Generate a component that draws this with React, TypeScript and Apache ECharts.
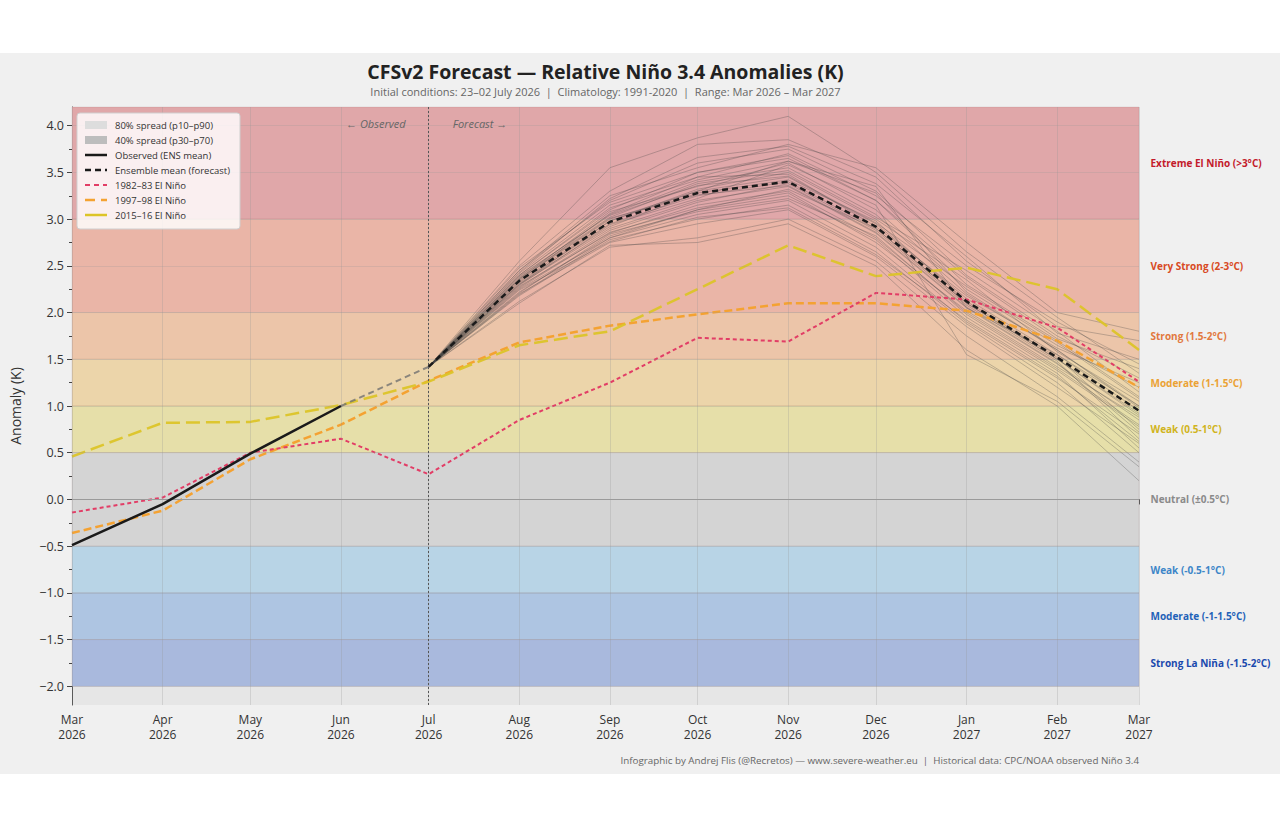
import React, { useEffect, useRef } from "react";
import * as echarts from "echarts";

// ---------- data ----------
const monthKeys = [
  "2026-03", "2026-04", "2026-05", "2026-06", "2026-07", "2026-08", "2026-09",
  "2026-10", "2026-11", "2026-12", "2027-01", "2027-02", "2027-03",
];
const MONTH_NAMES = ["Jan", "Feb", "Mar", "Apr", "May", "Jun", "Jul", "Aug", "Sep", "Oct", "Nov", "Dec"];

const yTickValues = [-2.0, -1.5, -1.0, -0.5, 0.0, 0.5, 1.0, 1.5, 2.0, 2.5, 3.0, 3.5, 4.0];
const yMinorTicks = [-1.75, -1.25, -0.75, -0.25, 0.25, 0.75, 1.25, 1.75, 2.25, 2.75, 3.25, 3.75];
const Y_MIN = -2.2;
const Y_MAX = 4.2;

// Observed (Mar–Jun 2026)
const observed = [-0.49, -0.05, 0.49, 1.0];
// Link Jun -> Jul
const bridge = [1.0, 1.42];
// Ensemble mean forecast (Jul 2026 – Mar 2027)
const ensembleMean = [1.42, 2.34, 2.97, 3.28, 3.40, 2.92, 2.12, 1.52, 0.95];
// spread percentiles (Jul – Mar)
const p10 = [1.42, 2.15, 2.74, 2.97, 3.08, 2.62, 1.82, 1.22, 0.50];
const p30 = [1.42, 2.27, 2.89, 3.16, 3.30, 2.80, 2.01, 1.42, 0.80];
const p70 = [1.42, 2.41, 3.07, 3.40, 3.53, 3.05, 2.24, 1.64, 1.10];
const p90 = [1.42, 2.53, 3.24, 3.60, 3.72, 3.26, 2.45, 1.85, 1.40];

// Historical analogues (Mar – Mar)
const nino8283 = [-0.14, 0.02, 0.50, 0.65, 0.27, 0.85, 1.25, 1.73, 1.69, 2.21, 2.14, 1.84, 1.26];
const nino9798 = [-0.36, -0.12, 0.43, 0.80, 1.27, 1.68, 1.86, 1.98, 2.10, 2.10, 2.02, 1.70, 1.20];
const nino1516 = [0.46, 0.82, 0.83, 1.01, 1.26, 1.65, 1.80, 2.25, 2.72, 2.39, 2.48, 2.25, 1.60];

// Ensemble members (Jul – Mar)
const members = [
  [1.42, 2.55, 3.55, 3.87, 4.10, 3.50, 2.65, 1.95, 1.35],
  [1.42, 2.50, 3.30, 3.80, 3.85, 3.45, 2.55, 1.85, 1.70],
  [1.42, 2.45, 3.20, 3.60, 3.75, 3.30, 2.40, 1.75, 1.30],
  [1.42, 2.40, 3.10, 3.50, 3.65, 3.20, 2.30, 1.70, 1.10],
  [1.42, 2.38, 3.05, 3.40, 3.55, 3.05, 2.20, 1.60, 1.00],
  [1.42, 2.35, 3.00, 3.30, 3.45, 2.95, 2.15, 1.55, 0.95],
  [1.42, 2.32, 2.95, 3.25, 3.40, 2.90, 2.10, 1.50, 0.90],
  [1.42, 2.30, 2.90, 3.20, 3.35, 2.85, 2.05, 1.45, 0.85],
  [1.42, 2.28, 2.85, 3.15, 3.30, 2.80, 2.00, 1.40, 0.80],
  [1.42, 2.25, 2.80, 3.05, 3.20, 2.70, 1.90, 1.30, 0.70],
  [1.42, 2.20, 2.75, 2.95, 3.10, 2.60, 1.85, 1.20, 0.60],
  [1.42, 2.12, 2.70, 2.80, 3.00, 2.55, 1.75, 1.10, 0.40],
  [1.42, 2.10, 2.72, 2.75, 2.95, 2.50, 1.60, 1.00, 0.20],
  [1.42, 2.45, 3.25, 3.55, 3.80, 3.55, 2.75, 2.00, 1.80],
  [1.42, 2.42, 3.15, 3.45, 3.70, 3.25, 2.50, 1.90, 1.45],
  [1.42, 2.36, 3.08, 3.35, 3.60, 3.10, 2.25, 1.65, 1.20],
  [1.42, 2.33, 2.98, 3.32, 3.50, 3.00, 2.35, 1.58, 1.05],
  [1.42, 2.31, 2.92, 3.28, 3.42, 2.98, 2.12, 1.52, 0.75],
  [1.42, 2.27, 2.88, 3.18, 3.38, 2.88, 2.08, 1.48, 0.65],
  [1.42, 2.22, 2.82, 3.10, 3.25, 2.78, 1.95, 1.35, 0.55],
  [1.42, 2.18, 2.78, 3.00, 3.15, 2.65, 1.88, 1.25, 0.50],
  [1.42, 2.40, 3.12, 3.42, 3.62, 3.35, 2.05, 1.55, 1.00],
  [1.42, 2.37, 3.02, 3.38, 3.52, 3.02, 2.45, 1.80, 1.15],
  [1.42, 2.29, 2.94, 3.22, 3.58, 3.15, 1.55, 1.05, 0.35],
  [1.42, 2.34, 3.06, 3.45, 3.48, 2.92, 2.18, 1.62, 1.25],
  [1.42, 2.26, 2.86, 3.12, 3.28, 2.75, 2.02, 1.42, 0.88],
  [1.42, 2.48, 3.18, 3.50, 3.68, 3.20, 2.38, 1.72, 1.40],
  [1.42, 2.21, 2.84, 3.08, 3.22, 2.82, 1.98, 1.38, 0.78],
  [1.42, 2.39, 3.04, 3.36, 3.46, 2.96, 2.28, 1.68, 1.08],
  [1.42, 2.24, 2.76, 3.02, 3.12, 2.62, 1.92, 1.32, 0.62],
  [1.42, 2.43, 3.22, 3.66, 3.78, 3.38, 2.60, 1.78, 1.50],
  [1.42, 2.30, 2.98, 3.30, 3.62, 3.28, 2.22, 1.60, 0.98],
  [1.42, 2.36, 3.01, 3.26, 3.36, 2.86, 2.06, 1.46, 0.72],
  [1.42, 2.19, 2.80, 3.10, 3.32, 2.90, 2.10, 1.50, 0.92],
];

// ENSO category bands
const bandRanges = [
  [3.0, 4.2], [2.0, 3.0], [1.5, 2.0], [1.0, 1.5], [0.5, 1.0],
  [-0.5, 0.5], [-1.0, -0.5], [-1.5, -1.0], [-2.0, -1.5],
];
const bandLabels = [
  "Extreme El Niño (>3°C)", "Very Strong (2-3°C)", "Strong (1.5-2°C)",
  "Moderate (1-1.5°C)", "Weak (0.5-1°C)", "Neutral (±0.5°C)",
  "Weak (-0.5-1°C)", "Moderate (-1-1.5°C)", "Strong La Niña (-1.5-2°C)",
];

const legendLabels = [
  "80% spread (p10–p90)", "40% spread (p30–p70)", "Observed (ENS mean)",
  "Ensemble mean (forecast)", "1982–83 El Niño", "1997–98 El Niño", "2015–16 El Niño",
];

const TITLE = "CFSv2 Forecast — Relative Niño 3.4 Anomalies (K)";
const SUBTITLE = "Initial conditions: 23–02 July 2026  |  Climatology: 1991-2020  |  Range: Mar 2026 – Mar 2027";
const FOOTER = "Infographic by Andrej Flis (@Recretos) — www.severe-weather.eu  |  Historical data: CPC/NOAA observed Niño 3.4";

// ---------- styles ----------
const FONT = '"Open Sans", "Noto Sans", sans-serif';
const bandFill = ["#e0a7a9", "#eab5a7", "#ecc5a9", "#ecd5aa", "#e6dfa9", "#d4d4d4", "#b8d4e6", "#aec5e2", "#a9b9dd"];
const bandText = ["#c31a2b", "#d84a24", "#e2783e", "#eba234", "#d0b420", "#8a8a8a", "#3d86c8", "#1f62b8", "#1a49ad"];
const C_OBS = "#1a1a1a";
const C_8283 = "#e23d66";
const C_9798 = "#f4a232";
const C_1516 = "#dcc428";

const toTs = (k: string) => {
  const [y, m] = k.split("-").map(Number);
  return new Date(y, m - 1, 1).getTime();
};
const monthTs = monthKeys.map(toTs);
const pairs = (start: number, vals: number[]) => vals.map((v, i) => [monthTs[start + i], v]);
const FC_START = 4; // Jul 2026 index

export default function App() {
  const ref = useRef<HTMLDivElement>(null);
  useEffect(() => {
    document.body.style.margin = "0";
    const chart = echarts.init(ref.current!, null, { renderer: "svg" });

    const memberSeries = members.map((m, i) => ({
      type: "line",
      name: "member" + i,
      data: pairs(FC_START, m),
      symbol: "none",
      silent: true,
      z: 3,
      lineStyle: { color: "rgba(70,70,70,0.38)", width: 0.8 },
    }));

    const option: any = {
      animation: false,
      backgroundColor: "#ffffff",
      textStyle: { fontFamily: FONT },
      grid: {
        left: 70, right: 141, top: 107, bottom: 125,
        show: true, backgroundColor: "#e6e6e6", borderWidth: 0,
      },
      xAxis: {
        type: "value",
        min: monthTs[0],
        max: monthTs[monthTs.length - 1],
        axisLine: { show: true, lineStyle: { color: "#444", width: 1 } },
        axisTick: { show: true, customValues: monthTs, length: 5, lineStyle: { color: "#444" } },
        axisLabel: {
          customValues: monthTs,
          hideOverlap: false,
          color: "#333",
          fontSize: 12,
          lineHeight: 15,
          margin: 7,
          fontFamily: FONT,
          formatter: (v: number) => {
            const d = new Date(v);
            return MONTH_NAMES[d.getMonth()] + "\n" + d.getFullYear();
          },
        },
        splitLine: { show: false },
      },
      yAxis: [
        {
          type: "value",
          min: Y_MIN,
          max: Y_MAX,
          name: "Anomaly (K)",
          nameLocation: "middle",
          nameGap: 50,
          nameRotate: 90,
          nameTextStyle: { fontSize: 14, color: "#333", fontFamily: FONT },
          axisLine: { show: true, lineStyle: { color: "#444", width: 1 } },
          axisTick: { show: true, customValues: yTickValues, length: 5, lineStyle: { color: "#444" } },
          axisLabel: {
            customValues: yTickValues,
            color: "#333",
            fontSize: 12.5,
            margin: 8,
            fontFamily: FONT,
            formatter: (v: number) => v.toFixed(1).replace("-", "\u2212"),
          },
          splitLine: { show: false },
        },
        {
          type: "value",
          min: Y_MIN,
          max: Y_MAX,
          position: "left",
          axisLine: { show: false },
          axisTick: { show: true, customValues: yMinorTicks, length: 3, lineStyle: { color: "#444" } },
          axisLabel: { show: false },
          splitLine: { show: false },
        },
      ],
      series: [
        // category bands
        {
          type: "line",
          name: "bands",
          data: pairs(0, nino8283),
          symbol: "none",
          silent: true,
          z: 0,
          lineStyle: { opacity: 0, width: 0 },
          markArea: {
            silent: true,
            data: bandRanges.map((r, i) => [
              {
                yAxis: r[0],
                name: bandLabels[i],
                itemStyle: { color: bandFill[i], borderColor: "rgba(120,60,60,0.10)", borderWidth: 1 },
                label: {
                  show: true,
                  position: "right",
                  distance: 11,
                  color: bandText[i],
                  fontSize: 10,
                  fontWeight: "bold",
                  fontFamily: FONT,
                  formatter: "{b}",
                },
              },
              { yAxis: r[1] },
            ]),
          },
        },
        // grid lines
        {
          type: "line",
          name: "gridlines",
          data: pairs(0, nino8283),
          symbol: "none",
          silent: true,
          z: 1,
          lineStyle: { opacity: 0, width: 0 },
          markLine: {
            silent: true,
            symbol: "none",
            label: { show: false },
            data: [
              ...monthTs.map((t) => ({ xAxis: t, lineStyle: { color: "rgba(150,150,150,0.35)", width: 0.8, type: "solid" } })),
              ...yTickValues.map((v) => ({ yAxis: v, lineStyle: { color: "rgba(150,150,150,0.3)", width: 0.8, type: "solid" } })),
              { yAxis: 0, lineStyle: { color: "#9a9a9a", width: 1.2, type: "solid" } },
              { xAxis: monthTs[FC_START], lineStyle: { color: "#555", width: 1, type: [2, 2] } },
            ],
          },
        },
        // 80% spread
        {
          type: "line", name: "p10base", stack: "b80", data: pairs(FC_START, p10),
          symbol: "none", silent: true, z: 2, lineStyle: { opacity: 0, width: 0 },
        },
        {
          type: "line", name: "80% spread", stack: "b80",
          data: pairs(FC_START, p90.map((v, i) => v - p10[i])),
          symbol: "none", silent: true, z: 2, lineStyle: { opacity: 0, width: 0 },
          areaStyle: { color: "rgba(110,110,110,0.28)" },
        },
        // 40% spread
        {
          type: "line", name: "p30base", stack: "b40", data: pairs(FC_START, p30),
          symbol: "none", silent: true, z: 2, lineStyle: { opacity: 0, width: 0 },
        },
        {
          type: "line", name: "40% spread", stack: "b40",
          data: pairs(FC_START, p70.map((v, i) => v - p30[i])),
          symbol: "none", silent: true, z: 2, lineStyle: { opacity: 0, width: 0 },
          areaStyle: { color: "rgba(90,90,90,0.3)" },
        },
        ...memberSeries,
        {
          type: "line", name: "1997–98 El Niño", data: pairs(0, nino9798), symbol: "none", z: 4,
          lineStyle: { color: C_9798, width: 2.5, type: [8, 4] },
        },
        {
          type: "line", name: "2015–16 El Niño", data: pairs(0, nino1516), symbol: "none", z: 4,
          lineStyle: { color: C_1516, width: 2.5, type: [14, 6], opacity: 0.95 },
        },
        {
          type: "line", name: "1982–83 El Niño", data: pairs(0, nino8283), symbol: "none", z: 4,
          lineStyle: { color: C_8283, width: 2, type: [4, 3] },
        },
        {
          type: "line", name: "bridge", data: pairs(3, bridge), symbol: "none", z: 5,
          lineStyle: { color: "#707070", width: 2, type: [6, 4], opacity: 0.8 },
        },
        {
          type: "line", name: "Observed (ENS mean)", data: pairs(0, observed), symbol: "none", z: 5,
          lineStyle: { color: C_OBS, width: 2.5 },
        },
        {
          type: "line", name: "Ensemble mean (forecast)", data: pairs(FC_START, ensembleMean), symbol: "none", z: 6,
          lineStyle: { color: C_OBS, width: 2.5, type: [6, 4] },
        },
      ],
    };
    chart.setOption(option);

    const julTop = chart.convertToPixel({ xAxisIndex: 0, yAxisIndex: 0 }, [monthTs[FC_START], 4.0]) as number[];
    const left = chart.convertToPixel({ xAxisIndex: 0, yAxisIndex: 0 }, [monthTs[0], Y_MAX]) as number[];
    const right = chart.convertToPixel({ xAxisIndex: 0, yAxisIndex: 0 }, [monthTs[monthTs.length - 1], Y_MIN]) as number[];
    const cx = (left[0] + right[0]) / 2;

    const lgX = left[0] + 5;
    const lgY = left[1] + 6;
    const Z = 50;
    const legendIcons: any[] = [
      { type: "rect", shape: { x: 8, y: -4, width: 22, height: 8 }, style: { fill: "#dddddd" } },
      { type: "rect", shape: { x: 8, y: -4, width: 22, height: 8 }, style: { fill: "#bdbdbd" } },
      { type: "line", shape: { x1: 8, y1: 0, x2: 30, y2: 0 }, style: { stroke: C_OBS, lineWidth: 2.5 } },
      { type: "line", shape: { x1: 8, y1: 0, x2: 30, y2: 0 }, style: { stroke: C_OBS, lineWidth: 2.5, lineDash: [6, 4] } },
      { type: "line", shape: { x1: 8, y1: 0, x2: 30, y2: 0 }, style: { stroke: C_8283, lineWidth: 2, lineDash: [5, 4] } },
      { type: "line", shape: { x1: 8, y1: 0, x2: 30, y2: 0 }, style: { stroke: C_9798, lineWidth: 2.5, lineDash: [10, 6] } },
      { type: "line", shape: { x1: 8, y1: 0, x2: 30, y2: 0 }, style: { stroke: C_1516, lineWidth: 2.5 } },
    ];
    const legendEls: any[] = [
      {
        type: "rect", z: Z,
        shape: { x: lgX, y: lgY, width: 163, height: 116, r: 3 },
        style: { fill: "rgba(255,255,255,0.82)", stroke: "#cfcfcf", lineWidth: 1 },
      },
    ];
    legendLabels.forEach((lab, i) => {
      const cy = lgY + 12 + i * 15;
      legendEls.push({ ...legendIcons[i], x: lgX, y: cy, z: Z + 1 });
      legendEls.push({
        type: "text",
        x: lgX + 38,
        y: cy,
        z: Z + 1,
        style: {
          text: lab, fill: "#333", fontSize: 9.5, fontFamily: FONT,
          verticalAlign: "middle", align: "left",
        },
      });
    });

    chart.setOption({
      graphic: [
        {
          type: "rect", z: -100, silent: true,
          shape: { x: 0, y: 53, width: 1280, height: 721 },
          style: { fill: "#f0f0f0" },
        },
        {
          type: "text", x: cx, y: 71, z: 10,
          style: {
            text: TITLE, fill: "#222", fontSize: 19.5, fontWeight: "bold", fontFamily: FONT,
            align: "center", verticalAlign: "middle", lineHeight: 20,
          },
        },
        {
          type: "text", x: cx, y: 91, z: 10,
          style: {
            text: SUBTITLE, fill: "#666", fontSize: 11, fontFamily: FONT,
            align: "center", verticalAlign: "middle", lineHeight: 12,
          },
        },
        {
          type: "text", x: right[0], y: 760, z: 10,
          style: {
            text: FOOTER, fill: "#666", fontSize: 9.8, fontFamily: FONT,
            align: "right", verticalAlign: "middle",
          },
        },
        {
          type: "text", x: julTop[0] - 23, y: julTop[1] - 2, z: 10,
          style: {
            text: "← Observed", fill: "#666", fontSize: 11, fontStyle: "italic", fontFamily: FONT,
            align: "right", verticalAlign: "middle",
          },
        },
        {
          type: "text", x: julTop[0] + 24, y: julTop[1] - 2, z: 10,
          style: {
            text: "Forecast →", fill: "#666", fontSize: 11, fontStyle: "italic", fontFamily: FONT,
            align: "left", verticalAlign: "middle",
          },
        },
        ...legendEls,
      ],
    });

    return () => chart.dispose();
  }, []);
  return <div ref={ref} style={{ width: 1280, height: 830 }} />;
}
